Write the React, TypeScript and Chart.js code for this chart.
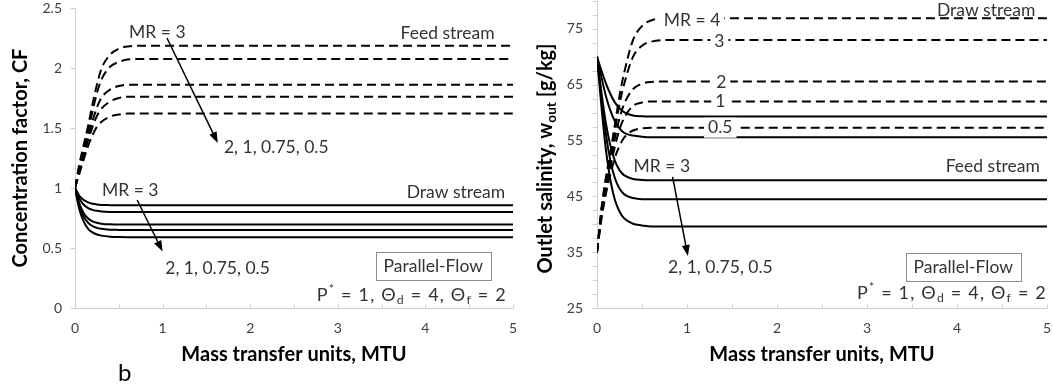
import React, { useEffect, useRef } from 'react';
import { Chart, registerables } from 'chart.js';
Chart.register(...registerables);

const FAMILY = 'Lato, "Open Sans", "DejaVu Sans", sans-serif';
const AXIS_COLOR = '#d0d0d0';
const TICK_COLOR = '#404040';
const TEXT_COLOR = '#333333';

// ---- shared x grid (mass transfer units) ----
const MTU = [0, 0.05, 0.1, 0.15, 0.2, 0.25, 0.3, 0.4, 0.5, 0.6, 0.8, 1, 5];
const MTU_TICKS = [0, 1, 2, 3, 4, 5];
const MTU_MARKS = [0, 0.5, 1, 1.5, 2, 2.5, 3, 3.5, 4, 4.5, 5];

// ---- left panel: concentration factor CF ----
const CF_TICKS = [0, 0.5, 1, 1.5, 2, 2.5];
// feed stream (dashed), MR = 3, 2, 1, 0.75, 0.5
const CF_FEED_MR3 = [1, 1.2, 1.36, 1.52, 1.7, 1.86, 1.99, 2.11, 2.16, 2.18, 2.185, 2.185, 2.185];
const CF_FEED_MR2 = [1, 1.18, 1.33, 1.48, 1.64, 1.79, 1.9, 2.01, 2.05, 2.07, 2.075, 2.075, 2.075];
const CF_FEED_MR1 = [1, 1.15, 1.29, 1.43, 1.56, 1.67, 1.75, 1.82, 1.85, 1.86, 1.86, 1.86, 1.86];
const CF_FEED_MR075 = [1, 1.14, 1.27, 1.4, 1.51, 1.6, 1.66, 1.72, 1.75, 1.76, 1.76, 1.76, 1.76];
const CF_FEED_MR05 = [1, 1.12, 1.24, 1.35, 1.44, 1.51, 1.55, 1.595, 1.612, 1.62, 1.62, 1.62, 1.62];
// draw stream (solid), MR = 3, 2, 1, 0.75, 0.5
const CF_DRAW_MR3 = [1, 0.935, 0.9, 0.88, 0.868, 0.862, 0.859, 0.857, 0.856, 0.856, 0.856, 0.856, 0.856];
const CF_DRAW_MR2 = [1, 0.91, 0.86, 0.833, 0.818, 0.81, 0.805, 0.801, 0.8, 0.8, 0.8, 0.8, 0.8];
const CF_DRAW_MR1 = [1, 0.87, 0.79, 0.745, 0.722, 0.71, 0.703, 0.697, 0.695, 0.695, 0.695, 0.695, 0.695];
const CF_DRAW_MR075 = [1, 0.85, 0.76, 0.71, 0.682, 0.668, 0.66, 0.653, 0.651, 0.65, 0.65, 0.65, 0.65];
const CF_DRAW_MR05 = [1, 0.82, 0.72, 0.66, 0.63, 0.612, 0.603, 0.594, 0.591, 0.59, 0.59, 0.59, 0.59];

// ---- right panel: outlet salinity w_out [g/kg] ----
const W_TICKS = [25, 35, 45, 55, 65, 75];
const W_MARKS = [25, 27.5, 30, 32.5, 35, 37.5, 40, 42.5, 45, 47.5, 50, 52.5, 55, 57.5, 60, 62.5, 65, 67.5, 70, 72.5, 75, 77.5, 80];
// draw stream (dashed), MR = 4, 3, 2, 1, 0.5
const W_DRAW_MR4 = [35, 43, 48.5, 53, 58, 63, 67, 73, 75.5, 76.5, 76.9, 76.9, 76.9];
const W_DRAW_MR3 = [35, 42.5, 48, 52.5, 57, 61.5, 65, 70, 72, 72.7, 73, 73, 73];
const W_DRAW_MR2 = [35, 42, 47, 51.5, 55.5, 59, 61.5, 64.2, 65.2, 65.5, 65.6, 65.6, 65.6];
const W_DRAW_MR1 = [35, 41.5, 46.5, 50.5, 54, 57, 59, 61.2, 61.8, 62, 62, 62, 62];
const W_DRAW_MR05 = [35, 41, 45.5, 49, 52, 54, 55.5, 56.8, 57.2, 57.3, 57.3, 57.3, 57.3];
// feed stream (solid), MR = 3, 2, 1, 0.75, 0.5
const W_FEED_MR3 = [70, 67.5, 65.2, 63.3, 61.8, 60.8, 60.1, 59.5, 59.35, 59.3, 59.3, 59.3, 59.3];
const W_FEED_MR2 = [70, 66.3, 62.9, 60.3, 58.4, 57.2, 56.4, 55.9, 55.7, 55.6, 55.6, 55.6, 55.6];
const W_FEED_MR1 = [70, 63.5, 58, 54, 51.3, 49.7, 48.8, 48.1, 47.95, 47.9, 47.9, 47.9, 47.9];
const W_FEED_MR075 = [70, 62.5, 56, 51.3, 48.2, 46.4, 45.4, 44.7, 44.5, 44.5, 44.5, 44.5, 44.5];
const W_FEED_MR05 = [70, 61, 53.2, 47.8, 44.3, 42.3, 41.1, 40.1, 39.8, 39.6, 39.6, 39.6, 39.6];

type Part = { t: string; sub?: boolean; sup?: boolean; italic?: boolean };

const fontStr = (size: number, bold = false, italic = false) =>
  `${italic ? 'italic ' : ''}${bold ? 'bold ' : ''}${size}px ${FAMILY}`;

function richWidth(ctx: CanvasRenderingContext2D, parts: Part[], size: number, bold: boolean) {
  let w = 0;
  for (const p of parts) {
    ctx.font = fontStr(p.sub || p.sup ? size * 0.68 : size, bold, p.italic);
    w += ctx.measureText(p.t).width;
  }
  return w;
}

function richText(ctx: CanvasRenderingContext2D, parts: Part[], x: number, y: number, size: number, bold: boolean, align: 'left' | 'center' | 'right') {
  const w = richWidth(ctx, parts, size, bold);
  let cx = align === 'left' ? x : align === 'center' ? x - w / 2 : x - w;
  ctx.textAlign = 'left';
  ctx.textBaseline = 'middle';
  for (const p of parts) {
    ctx.font = fontStr(p.sub || p.sup ? size * 0.68 : size, bold, p.italic);
    const dy = p.sub ? size * 0.3 : p.sup ? -size * 0.3 : 0;
    ctx.fillText(p.t, cx, y + dy);
    cx += ctx.measureText(p.t).width;
  }
}

function text(ctx: CanvasRenderingContext2D, s: string, x: number, y: number, align: CanvasTextAlign, size = 17.5, bg = false) {
  ctx.font = fontStr(size);
  if (bg) {
    const w = ctx.measureText(s).width;
    const left = align === 'left' ? x : align === 'center' ? x - w / 2 : x - w;
    ctx.fillStyle = '#ffffff';
    ctx.fillRect(left - 4, y - 10, w + 8, 20);
  }
  ctx.fillStyle = TEXT_COLOR;
  ctx.textAlign = align;
  ctx.textBaseline = 'middle';
  ctx.fillText(s, x, y);
}

function arrow(ctx: CanvasRenderingContext2D, x1: number, y1: number, x2: number, y2: number) {
  const a = Math.atan2(y2 - y1, x2 - x1);
  const L = 11, H = 4;
  ctx.strokeStyle = '#000';
  ctx.fillStyle = '#000';
  ctx.lineWidth = 1.5;
  ctx.setLineDash([]);
  ctx.beginPath();
  ctx.moveTo(x1, y1);
  ctx.lineTo(x2 - L * Math.cos(a), y2 - L * Math.sin(a));
  ctx.stroke();
  ctx.beginPath();
  ctx.moveTo(x2, y2);
  ctx.lineTo(x2 - L * Math.cos(a) + H * Math.sin(a), y2 - L * Math.sin(a) - H * Math.cos(a));
  ctx.lineTo(x2 - L * Math.cos(a) - H * Math.sin(a), y2 - L * Math.sin(a) + H * Math.cos(a));
  ctx.closePath();
  ctx.fill();
}

function box(ctx: CanvasRenderingContext2D, s: string, cx: number, cy: number) {
  ctx.font = fontStr(17.5);
  const w = ctx.measureText(s).width + 16;
  const h = 28;
  ctx.fillStyle = '#fff';
  ctx.fillRect(cx - w / 2, cy - h / 2, w, h);
  ctx.strokeStyle = '#8c8c8c';
  ctx.lineWidth = 1;
  ctx.setLineDash([]);
  ctx.strokeRect(Math.round(cx - w / 2) + 0.5, Math.round(cy - h / 2) + 0.5, Math.round(w), h);
  text(ctx, s, cx, cy, 'center');
}

const P_PARTS: Part[] = [
  { t: 'P' }, { t: '*', sup: true }, { t: ' = 1, \u0398' }, { t: 'd', sub: true },
  { t: ' = 4, \u0398' }, { t: 'f', sub: true }, { t: ' = 2' },
];

function pText(ctx: CanvasRenderingContext2D, x: number, y: number) {
  ctx.fillStyle = TEXT_COLOR;
  (ctx as any).letterSpacing = '1.2px';
  richText(ctx, P_PARTS, x, y, 18, false, 'right');
  (ctx as any).letterSpacing = '0px';
}

const pts = (ys: number[]) => ys.map((y, i) => ({ x: MTU[i], y }));
const series = (ys: number[], dashed: boolean) => ({
  data: pts(ys),
  borderColor: '#000',
  borderWidth: 2,
  borderDash: dashed ? [9, 5] : [],
  pointRadius: 0,
  fill: false,
  cubicInterpolationMode: 'monotone' as const,
});

function axesPlugin(xMarks: number[], yMarks: number[]) {
  return {
    id: 'axesMarks',
    beforeDatasetsDraw(chart: any) {
      const { ctx, chartArea: a, scales } = chart;
      ctx.save();
      ctx.strokeStyle = AXIS_COLOR;
      ctx.lineWidth = 1;
      ctx.beginPath();
      const lx = Math.round(a.left) + 0.5;
      const by = Math.round(a.bottom) + 0.5;
      ctx.moveTo(lx, a.top);
      ctx.lineTo(lx, by);
      ctx.lineTo(a.right, by);
      for (const v of yMarks) {
        const y = Math.round(scales.y.getPixelForValue(v)) + 0.5;
        ctx.moveTo(lx - 5, y);
        ctx.lineTo(lx, y);
      }
      for (const v of xMarks) {
        const x = Math.round(scales.x.getPixelForValue(v)) + 0.5;
        ctx.moveTo(x, by);
        ctx.lineTo(x, by - 4);
      }
      ctx.stroke();
      ctx.restore();
    },
  };
}

function annotPlugin(draw: (ctx: CanvasRenderingContext2D, X: (v: number) => number, Y: (v: number) => number, chart: any) => void) {
  return {
    id: 'annot',
    afterDatasetsDraw(chart: any) {
      const ctx = chart.ctx as CanvasRenderingContext2D;
      const X = (v: number) => chart.scales.x.getPixelForValue(v);
      const Y = (v: number) => chart.scales.y.getPixelForValue(v);
      ctx.save();
      draw(ctx, X, Y, chart);
      ctx.restore();
    },
  };
}

const tickFont = { family: FAMILY, size: 14 };
const titleFont = { family: FAMILY, size: 20, weight: 'bold' as const };

function xScale() {
  return {
    type: 'linear' as const,
    min: 0,
    max: 5,
    afterBuildTicks: (s: any) => { s.ticks = MTU_TICKS.map((v) => ({ value: v })); },
    afterFit: (s: any) => { s.height = 80; s.paddingLeft = 0; s.paddingRight = 0; },
    grid: { display: false, drawTicks: false },
    border: { display: false },
    ticks: { padding: 12, color: TICK_COLOR, font: tickFont, maxRotation: 0, autoSkip: false, callback: (v: number) => String(v) },
    title: { display: true, text: 'Mass transfer units, MTU', color: '#000', font: titleFont, padding: { top: 0, bottom: 21 } },
  };
}

function leftConfig(): any {
  return {
    type: 'line',
    data: {
      datasets: [
        series(CF_FEED_MR3, true), series(CF_FEED_MR2, true), series(CF_FEED_MR1, true),
        series(CF_FEED_MR075, true), series(CF_FEED_MR05, true),
        series(CF_DRAW_MR3, false), series(CF_DRAW_MR2, false), series(CF_DRAW_MR1, false),
        series(CF_DRAW_MR075, false), series(CF_DRAW_MR05, false),
      ],
    },
    options: {
      animation: false,
      responsive: false,
      devicePixelRatio: 1,
      layout: { padding: { left: 0, right: 12, top: 8, bottom: 0 } },
      plugins: { legend: { display: false }, tooltip: { enabled: false } },
      scales: {
        x: xScale(),
        y: {
          type: 'linear',
          min: 0,
          max: 2.5,
          afterBuildTicks: (s: any) => { s.ticks = CF_TICKS.map((v) => ({ value: v })); },
          afterFit: (s: any) => { s.width = 75; s.paddingTop = 0; s.paddingBottom = 0; },
          grid: { display: false, drawTicks: false },
          border: { display: false },
          ticks: { padding: 13, color: TICK_COLOR, font: tickFont, autoSkip: false, callback: (v: number) => String(v) },
          title: { display: true, text: 'Concentration factor, CF', color: '#000', font: titleFont, padding: { top: 9, bottom: 0 } },
        },
      },
    },
    plugins: [
      axesPlugin(MTU_MARKS, CF_TICKS),
      annotPlugin((ctx, X, Y) => {
        text(ctx, 'MR = 3', X(0.94), Y(2.3), 'center');
        arrow(ctx, X(1.05), Y(2.25), X(1.63), Y(1.375));
        text(ctx, '2, 1, 0.75, 0.5', X(1.7), Y(1.34), 'left');
        text(ctx, 'Feed stream', X(4.79), Y(2.29), 'right');
        text(ctx, 'Draw stream', X(4.91), Y(0.96), 'right');
        text(ctx, 'MR = 3', X(0.63), Y(0.98), 'center');
        arrow(ctx, X(0.71), Y(0.9), X(1.0), Y(0.47));
        text(ctx, '2, 1, 0.75, 0.5', X(1.03), Y(0.33), 'left');
        box(ctx, 'Parallel-Flow', X(4.09), Y(0.35));
        pText(ctx, X(4.93), Y(0.11));
      }),
    ],
  };
}

function rightConfig(): any {
  return {
    type: 'line',
    data: {
      datasets: [
        series(W_DRAW_MR4, true), series(W_DRAW_MR3, true), series(W_DRAW_MR2, true),
        series(W_DRAW_MR1, true), series(W_DRAW_MR05, true),
        series(W_FEED_MR3, false), series(W_FEED_MR2, false), series(W_FEED_MR1, false),
        series(W_FEED_MR075, false), series(W_FEED_MR05, false),
      ],
    },
    options: {
      animation: false,
      responsive: false,
      devicePixelRatio: 1,
      layout: { padding: { left: 0, right: 6, top: 1, bottom: 0 } },
      plugins: { legend: { display: false }, tooltip: { enabled: false } },
      scales: {
        x: xScale(),
        y: {
          type: 'linear',
          min: 25,
          max: 80,
          afterBuildTicks: (s: any) => { s.ticks = W_TICKS.map((v) => ({ value: v })); },
          afterFit: (s: any) => { s.width = 72; s.paddingTop = 0; s.paddingBottom = 0; },
          grid: { display: false, drawTicks: false },
          border: { display: false },
          ticks: { padding: 14, color: TICK_COLOR, font: tickFont, autoSkip: false, callback: (v: number) => String(v) },
          title: { display: false },
        },
      },
    },
    plugins: [
      axesPlugin(MTU_MARKS, W_MARKS),
      annotPlugin((ctx, X, Y, chart) => {
        text(ctx, 'MR = 4', X(1.056), Y(76.6), 'center', 17.5, true);
        text(ctx, '3', X(1.36), Y(72.8), 'center', 17.5, true);
        text(ctx, '2', X(1.38), Y(65.4), 'center', 17.5, true);
        text(ctx, '1', X(1.37), Y(62.0), 'center', 17.5, true);
        text(ctx, '0.5', X(1.37), Y(57.3), 'center', 17.5, true);
        text(ctx, 'Draw stream', X(4.87), Y(78.4), 'right');
        text(ctx, 'Feed stream', X(4.92), Y(50.3), 'right');
        text(ctx, 'MR = 3', X(0.72), Y(50.4), 'center');
        arrow(ctx, X(0.84), Y(48.5), X(1.01), Y(34.3));
        text(ctx, '2, 1, 0.75, 0.5', X(0.79), Y(32.2), 'left');
        box(ctx, 'Parallel-Flow', X(4.07), Y(32.3));
        pText(ctx, X(5.0), Y(27.7));
        // y-axis title with subscript
        const a = chart.chartArea;
        ctx.save();
        ctx.translate(21, (a.top + a.bottom) / 2 + 4);
        ctx.rotate(-Math.PI / 2);
        ctx.fillStyle = '#000';
        richText(ctx, [{ t: 'Outlet salinity, ' }, { t: 'w' }, { t: 'out', sub: true }, { t: ' [g/kg]' }], 0, 0, 20, true, 'center');
        ctx.restore();
      }),
    ],
  };
}

export default function App() {
  const leftRef = useRef<HTMLCanvasElement>(null);
  const rightRef = useRef<HTMLCanvasElement>(null);
  useEffect(() => {
    const c1 = new Chart(leftRef.current as HTMLCanvasElement, leftConfig());
    const c2 = new Chart(rightRef.current as HTMLCanvasElement, rightConfig());
    return () => {
      c1.destroy();
      c2.destroy();
    };
  }, []);
  return (
    <div style={{ position: 'absolute', left: 0, top: 0, width: 1053, height: 388, background: '#fff', overflow: 'hidden' }}>
      <div style={{ position: 'absolute', left: 0, top: 0, width: 525, height: 388 }}>
        <canvas ref={leftRef} width={525} height={388} style={{ display: 'block' }} />
      </div>
      <div style={{ position: 'absolute', left: 525, top: 0, width: 528, height: 388 }}>
        <canvas ref={rightRef} width={528} height={388} style={{ display: 'block' }} />
      </div>
      <div style={{ position: 'absolute', left: 118, top: 358, fontFamily: FAMILY, fontSize: 24, lineHeight: '28px', color: '#000' }}>b</div>
    </div>
  );
}
